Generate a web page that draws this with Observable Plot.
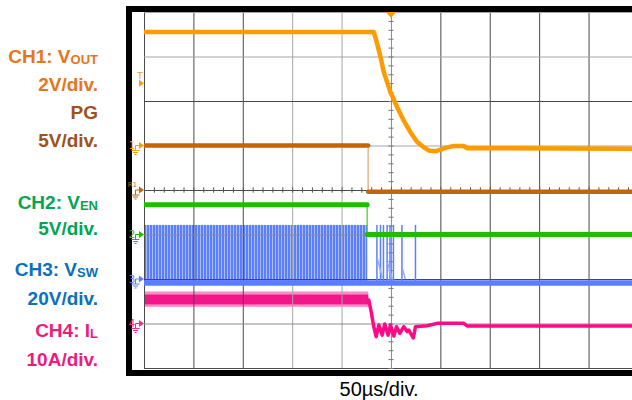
<!DOCTYPE html>
<html><head><meta charset="utf-8">
<script src="https://cdn.jsdelivr.net/npm/d3@7"></script>
<script src="https://cdn.jsdelivr.net/npm/@observablehq/plot@0.6"></script>
<style>
html,body{margin:0;padding:0;background:#fff;}
#wrap{position:relative;width:632px;height:400px;overflow:hidden;font-family:"Liberation Sans",Arial,sans-serif;}
#bezel{position:absolute;left:126px;top:6px;width:560px;height:370px;box-sizing:border-box;border:6px solid #000;}
#chart{position:absolute;left:0;top:0;}
#chart svg{display:block;}
.lab{position:absolute;left:0;width:98px;text-align:right;font-weight:bold;font-size:19px;line-height:19px;white-space:nowrap;}
.lab .sub{font-size:13px;position:relative;top:1px;}
#cap{position:absolute;left:279px;width:200px;top:379px;text-align:center;font-size:20px;line-height:20px;color:#000;}
</style></head>
<body>
<svg width="0" height="0" style="position:absolute">
  <defs>
    <pattern id="swp" width="3" height="10" patternUnits="userSpaceOnUse">
      <rect width="3" height="10" fill="#a9bdff"></rect>
      <rect width="2" height="10" fill="#5b7eff"></rect>
    </pattern>
  </defs>
</svg>
<div id="wrap">
  <div id="bezel"></div>
  <div id="chart"></div>
  <div id="cap"></div>
</div>
<script>
// ---------- data (time in µs relative to the trigger, 50 µs/div) ----------
const gridTimes = [-250, -200, -150, -100, -50, 0, 50, 100, 150, 200];
const gridDivs = [-4, -3, -2, -1, 0, 1, 2, 3, 4];
const timeCaption = "50µs/div.";

// channel labels
const labelMain = ["CH1: V", "2V/div.", "PG", "5V/div.", "CH2: V", "5V/div.", "CH3: V", "20V/div.", "CH4: I", "10A/div."];
const labelSub  = ["OUT", "", "", "", "EN", "", "SW", "", "L", ""];

// channel ground markers
const markerLabel = ["T", "1", "R1", "2", "3", "4"];

// CH1 VOUT (V), 2 V/div
const voutTime = [-250, -21.3, -17.9, -14.5, -11.1, -7.8, -1.0, 5.8, 12.4, 19.2, 26.0, 32.7, 37.7, 44.5, 49.6, 56.4, 63.0, 73.2, 76.6, 244];
const voutVolt = [5.12, 5.12, 5.12, 4.6, 4.0, 3.32, 2.42, 1.74, 1.14, 0.62, 0.18, -0.06, -0.2, -0.24, -0.16, -0.06, 0.0, 0.0, -0.1, -0.12];
const triggerVolt = 2.8;

// PG (V), 5 V/div
const pgTime = [-250, -23.6, -23.6, 244];
const pgVolt = [5.05, 5.05, -0.15, -0.15];

// CH2 VEN (V), 5 V/div
const enTime = [-250, -24.6, -24.6, 244];
const enVolt = [3.4, 3.4, 0.05, 0.05];

// CH3 VSW (V), 20 V/div
const swBurstTime = [-250, -24.0];
const swLowVolt = -1.6;
const swHighVolt = 24.3;
const swPulseTime = [-14.7, -11.1, -8.1, -4.4, -1.5, 2.0, 10.6, 24.3];
const swPulseVolt = [24.3, 24.3, 24.3, 24.3, 24.3, 24.3, 24.3, 24.3];
const swRingTime = [-14.2, -9.4, -3.7, 0.7, 11.1, 13.9];
const swRingVolt = [9.4, 0.9, 7.2, 0.45, 4.9, 0.5];
const swRingId   = [1, 1, 2, 2, 3, 3];

// CH4 IL (A), 10 A/div
const ilRippleTime = [-250, -23.0];
const ilRippleOuter = [3.75, 7.2];
const ilRippleCore = [4.3, 6.5];
const ilTime = [-23.0, -20.5, -17.9, -15.5, -12.8, -9.4, -6.8, -3.4, -1.0, 2.4, 5.1, 8.4, 12.5, 15.9, 17.5, 22.0, 23.3, 24.3, 36.1, 46.2, 73.2, 76.6, 244];
const ilAmp  = [5.4, 2.7, -0.6, -2.85, -0.22, -2.5, 0.0, -2.5, -0.22, -2.7, -0.6, -2.1, -0.6, -1.7, -1.35, -3.15, -1.8, -0.6, -0.38, 0.15, 0.15, -0.45, -0.45];

// ---------- styling / channel setup ----------
const CH = {
  vout: {off: 1, per: 2, color: "#ff9a00"},
  pg:   {off: 0, per: 5, color: "#c2650c"},
  en:   {off: -1, per: 5, color: "#22bb00"},
  sw:   {off: -2, per: 20, color: "#5b7eff"},
  il:   {off: -3, per: 10, color: "#ff0a86"}
};
const div = (c, v) => CH[c].off + v / CH[c].per;
const labelColors = ["#e8741c", "#e8741c", "#a0521c", "#a0521c", "#00a651", "#00a651", "#0a70c0", "#0a70c0", "#ec1c7b", "#ec1c7b"];
const labelTops = [47, 75, 103, 131, 193, 219, 260, 289, 321, 350];

const markerLevels = [div("vout", triggerVolt), CH.vout.off, CH.pg.off, CH.en.off, CH.sw.off, CH.il.off];
const markerColors = ["#ff9a00", "#ff9a00", "#c2650c", "#22bb00", "#5b7eff", "#ff2a90"];

const vout = voutTime.map((t, i) => ({t, y: div("vout", voutVolt[i])}));
const pg = pgTime.map((t, i) => ({t, y: div("pg", pgVolt[i]), seg: pgVolt[i] > 2 ? "hi" : "lo"}));
const en = enTime.map((t, i) => ({t, y: div("en", enVolt[i]), seg: enVolt[i] > 2 ? "hi" : "lo"}));
const swBand = [{t1: swBurstTime[0], t2: swBurstTime[1], y1: div("sw", swLowVolt), y2: div("sw", swHighVolt)}];
const swPulses = swPulseTime.map((t, i) => ({t, y1: div("sw", swLowVolt), y2: div("sw", swPulseVolt[i])}));
const swRing = swRingTime.map((t, i) => ({t, y: div("sw", swRingVolt[i]), g: swRingId[i]}));
const ilOuter = [{t1: ilRippleTime[0], t2: ilRippleTime[1], y1: div("il", ilRippleOuter[0]), y2: div("il", ilRippleOuter[1])}];
const ilCore = [{t1: ilRippleTime[0], t2: ilRippleTime[1], y1: div("il", ilRippleCore[0]), y2: div("il", ilRippleCore[1])}];
const il = ilTime.map((t, i) => ({t, y: div("il", ilAmp[i])}));
const minorT = d3.range(-250, 245, 10);
const minorY = d3.range(-4, 4.001, 0.2);

const lightGrid = new Set([-100, -50]);

function markerGlyphs(index, scales, values, dims) {
  const g = d3.create("svg:g");
  const x0 = dims.marginLeft;
  markerLabel.forEach((lab, i) => {
    const yy = scales.y(markerLevels[i]);
    const c = markerColors[i];
    g.append("path").attr("d", `M${x0 - 5},${yy - 3.5}L${x0},${yy}L${x0 - 5},${yy + 3.5}Z`).attr("fill", c);
    if (lab === "T") {
      g.append("text").attr("x", x0 - 4).attr("y", yy - 4).attr("text-anchor", "middle")
        .attr("font-size", 9).attr("font-family", "DejaVu Sans, sans-serif").attr("fill", c).text(lab);
      return;
    }
    const sx = x0 - 8.5;
    g.append("path").attr("d", `M${sx},${yy}H${x0 - 5}M${sx},${yy}V${yy + 5}M${sx - 4},${yy + 5}H${sx + 4}M${sx - 2.5},${yy + 7}H${sx + 2.5}M${sx - 1},${yy + 9}H${sx + 1}`)
      .attr("stroke", c).attr("stroke-width", 1).attr("fill", "none");
    if (lab === "R1") {
      g.append("text").attr("x", x0 - 7).attr("y", yy - 3).attr("text-anchor", "end")
        .attr("font-size", 7).attr("font-family", "DejaVu Sans, sans-serif").attr("fill", c).text(lab);
    } else {
      g.append("text").attr("x", x0 - 9).attr("y", yy + 3.5).attr("text-anchor", "end")
        .attr("font-size", 10).attr("font-family", "DejaVu Sans, sans-serif").attr("fill", c).text(lab);
    }
  });
  // trigger position marker at top
  const xt = scales.x(0), yt = dims.marginTop;
  g.append("path").attr("d", `M${xt - 5},${yt}L${xt + 5},${yt}L${xt},${yt + 6}Z`).attr("fill", "#ff9a00");
  return g.node();
}

const chart = Plot.plot({
  width: 632, height: 372,
  marginLeft: 144, marginRight: 0, marginTop: 12, marginBottom: 4,
  x: {domain: [-250, 244], axis: null},
  y: {domain: [-4, 4], axis: null},
  style: {background: "transparent", overflow: "visible"},
  marks: [
    Plot.rect(swBand, {x1: "t1", x2: "t2", y1: "y1", y2: "y2", fill: "url(#swp)", clip: true}),
    Plot.rect(ilOuter, {x1: "t1", x2: "t2", y1: "y1", y2: "y2", fill: "#f98cc2", clip: true}),
    Plot.rect(ilCore, {x1: "t1", x2: "t2", y1: "y1", y2: "y2", fill: "#f2168a", clip: true}),
    Plot.ruleX(gridTimes, {stroke: d => lightGrid.has(d) ? "light" : d === 0 ? "mid" : "dark", strokeWidth: 1}),
    Plot.ruleY(gridDivs, {stroke: d => (d === 4 || d === 3 || d === 1) ? "light" : (d === -1 || d === -3) ? "mid" : "dark", strokeWidth: 1}),
    Plot.ruleX(minorT, {y1: -0.06, y2: 0.06, stroke: "#555"}),
    Plot.ruleY(minorY, {x1: -2.6, x2: 2.6, stroke: "#777"}),
    // CH3 VSW
    Plot.ruleY([div("sw", swLowVolt)], {stroke: CH.sw.color, strokeWidth: 5.5}),
    Plot.ruleX(swPulses, {x: "t", y1: "y1", y2: "y2", stroke: CH.sw.color, strokeWidth: 1.5}),
    Plot.line(swRing, {x: "t", y: "y", z: "g", stroke: "#93abff", strokeWidth: 1.5}),
    // CH2 VEN
    Plot.line(en, {x: "t", y: "y", stroke: "#3fcc2a", strokeWidth: 1.2, clip: true}),
    Plot.line(en, {x: "t", y: "y", z: "seg", stroke: CH.en.color, strokeWidth: 5, clip: true}),
    // PG
    Plot.line(pg, {x: "t", y: "y", stroke: "#e3b98a", strokeWidth: 1.5, clip: true}),
    Plot.line(pg, {x: "t", y: "y", z: "seg", stroke: CH.pg.color, strokeWidth: 4.5, clip: true}),
    // CH1 VOUT
    Plot.line(vout, {x: "t", y: "y", stroke: CH.vout.color, strokeWidth: 4.5, strokeLinejoin: "round", clip: true}),
    // CH4 IL
    Plot.line(il, {x: "t", y: "y", stroke: CH.il.color, strokeWidth: 3.5, strokeLinejoin: "round", clip: true}),
    markerGlyphs
  ],
  color: {type: "ordinal", domain: ["dark", "mid", "light"], range: ["#4a4a4a", "#8a8a8a", "#a5a5a5"]}
});
document.getElementById("chart").appendChild(chart);

// labels
const wrap = document.getElementById("wrap");
labelMain.forEach((txt, i) => {
  const d = document.createElement("div");
  d.className = "lab";
  d.style.top = labelTops[i] + "px";
  d.style.color = labelColors[i];
  d.textContent = txt;
  if (labelSub[i]) {
    const s = document.createElement("span");
    s.className = "sub";
    s.textContent = labelSub[i];
    d.appendChild(s);
  }
  wrap.appendChild(d);
});
document.getElementById("cap").textContent = timeCaption;
</script>
</body></html>
